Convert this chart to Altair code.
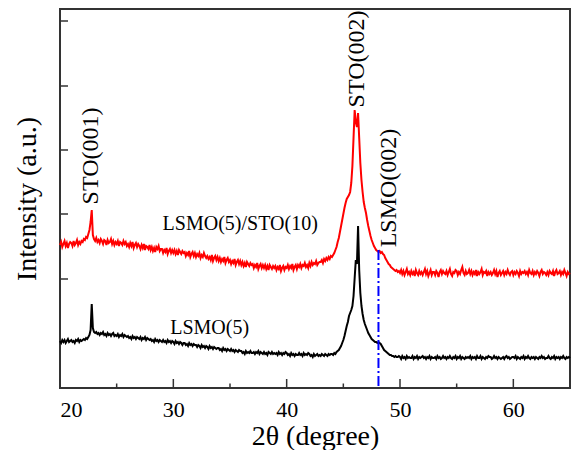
import altair as alt
import pandas as pd

# 2-theta sampling grid (0.1 degree steps, 20..65)
two_theta = [round(20 + 0.1 * i, 1) for i in range(451)]

# LSMO(5)/STO(10) intensity (a.u.)
red_vals = [
    143,146,141,144,147,142,145,140,144,146,
    145,142,147,143,145,148,143,146,144,147,
    146,149,148,151,150,154,158,166,178,153,
    149,147,150,146,148,145,149,147,144,148,
    147,143,148,145,146,149,144,147,143,146,
    144,147,142,146,145,143,147,144,146,142,
    144,141,145,142,146,140,143,145,141,144,
    142,139,143,140,144,138,142,141,139,143,
    138,141,137,140,136,141,139,142,137,139,
    139,135,138,136,140,134,137,139,135,138,
    135,138,134,137,133,138,136,134,137,135,
    136,132,135,133,137,131,134,136,132,135,
    131,134,132,135,130,133,131,135,132,130,
    132,129,131,128,133,127,130,132,128,131,
    127,130,126,129,127,131,125,128,130,126,
    128,124,127,125,129,123,126,128,124,127,
    123,126,122,125,121,126,124,122,125,123,
    124,120,123,121,125,119,122,124,120,123,
    120,123,119,122,118,123,121,119,122,120,
    122,118,121,119,123,117,120,122,118,121,
    120,123,119,122,120,124,118,121,123,119,
    123,121,124,120,123,122,125,121,123,120,
    125,122,126,123,125,124,127,123,125,126,
    126,128,125,129,127,130,128,131,129,132,
    131,133,135,138,141,146,150,156,162,168,
    174,180,185,189,191,193,196,205,222,250,
    278,266,261,275,250,225,208,196,186,180,
    175,168,162,157,152,148,145,142,140,138,
    137,136,137,135,136,134,133,130,128,126,
    124,123,121,120,119,118,117,118,116,117,
    115,118,114,117,113,116,119,114,116,113,
    117,114,116,112,118,115,113,117,114,116,
    113,116,119,114,117,112,115,118,113,116,
    116,113,117,115,111,116,118,114,117,115,
    114,117,113,116,119,114,112,116,115,118,
    117,113,116,114,118,121,115,113,117,114,
    115,118,114,117,113,116,114,118,112,116,
    114,116,119,113,116,115,117,112,116,114,
    116,113,115,118,114,117,111,115,117,113,
    115,117,113,116,114,118,115,113,116,117,
    113,116,114,117,115,112,117,114,116,115,
    117,114,116,113,118,115,114,117,113,116,
    114,117,115,112,116,118,114,116,115,113,
    116,113,117,115,114,117,112,116,118,114,
    115,117,113,116,114,118,115,112,116,114,
    115,
]

# LSMO(5) intensity (a.u.)
black_vals = [
    47,45,48,46,48,45,47,49,46,47,
    48,46,47,45,48,47,49,46,48,47,
    48,49,48,50,49,51,53,58,84,60,
    56,55,56,54,55,53,55,54,56,53,
    54,52,55,53,54,52,54,55,52,53,
    52,54,51,53,52,54,51,53,52,51,
    52,50,51,49,52,50,51,49,51,50,
    49,51,48,50,49,51,48,50,49,48,
    49,47,48,46,49,47,48,46,48,47,
    46,48,46,47,45,48,46,47,45,47,
    46,44,47,45,46,44,46,45,43,45,
    45,43,44,42,45,43,44,42,44,43,
    43,41,43,42,40,43,41,42,40,42,
    41,39,42,40,41,39,41,40,39,40,
    40,38,39,37,40,38,39,37,39,38,
    37,39,37,38,36,38,37,36,38,37,
    37,35,36,34,37,35,36,35,37,35,
    35,36,34,36,35,37,34,36,35,34,
    36,34,35,33,36,35,34,36,34,35,
    34,35,33,36,34,35,33,35,34,36,
    35,33,34,32,35,33,34,32,34,33,
    33,35,33,34,32,35,33,34,33,35,
    34,32,33,31,34,32,33,34,32,33,
    32,34,33,32,34,33,32,34,33,34,
    34,33,35,34,36,37,38,40,42,45,
    48,52,57,62,66,72,75,78,82,92,
    110,128,124,162,118,95,82,74,68,64,
    61,58,55,53,51,49,48,47,46,46,
    45,46,45,44,42,40,38,37,36,35,
    34,33,33,32,32,31,32,31,31,32,
    31,29,32,30,31,29,32,30,31,30,
    30,32,29,31,30,32,29,31,30,31,
    32,30,31,29,31,30,32,29,31,30,
    30,31,29,32,30,31,29,30,32,30,
    31,29,31,30,32,30,29,31,30,32,
    29,31,30,32,29,31,30,29,31,30,
    31,30,32,29,31,30,31,29,32,30,
    30,32,29,31,30,29,31,30,32,31,
    31,29,30,32,30,31,29,31,30,29,
    30,31,29,31,32,30,31,29,30,31,
    31,30,32,29,31,30,29,31,30,32,
    29,31,30,32,30,29,31,30,31,29,
    31,30,29,31,30,32,30,31,29,30,
    30,32,30,29,31,30,32,29,31,30,
    31,29,31,30,32,30,29,31,30,31,
    30,
]

assert len(red_vals) == len(two_theta) == len(black_vals)

# Annotations
h_labels = ["LSMO(5)/STO(10)", "LSMO(5)"]
h_x = [35.9, 33.2]
h_y = [164, 60]

r_labels = ["STO(001)", "STO(002)", "LSMO(002)"]
r_x = [22.7, 46.2, 49.0]
r_y = [232, 329, 200]

# LSMO(002) marker line
marker_x = [48.1]
marker_top = [138]

# Axis ticks
x_major = [20, 30, 40, 50, 60]
x_minor = [25, 35, 45, 55]
y_major = [109, 174, 238, 302, 367]

FONT = "'Liberation Serif', 'Times New Roman', Times, serif"

df = pd.DataFrame({"x": two_theta, "red": red_vals, "black": black_vals})

xs = alt.Scale(domain=[20, 65], nice=False, zero=False)
ys = alt.Scale(domain=[0, 379], nice=False, zero=False)

xaxis = alt.Axis(values=x_major, domain=False, ticks=False, grid=False,
                 labelFont=FONT, labelFontSize=22, labelColor="black",
                 labelPadding=11, title="2θ (degree)", titleFont=FONT,
                 titleFontSize=28, titleFontWeight="normal", titleColor="black",
                 titleBaseline="alphabetic", titleY=56)
yaxis = alt.Axis(labels=False, domain=False, ticks=False, grid=False,
                 title="Intensity (a.u.)", titleFont=FONT, titleFontSize=28,
                 titleFontWeight="normal", titleColor="black", titlePadding=19)

base = alt.Chart(df)
red_line = base.mark_line(color="#ff0000", strokeWidth=2).encode(
    x=alt.X("x:Q", scale=xs, axis=xaxis),
    y=alt.Y("red:Q", scale=ys, axis=yaxis),
)
black_line = base.mark_line(color="#000000", strokeWidth=2).encode(
    x=alt.X("x:Q", scale=xs),
    y=alt.Y("black:Q", scale=ys),
)

mk = pd.DataFrame({"x": marker_x, "top": marker_top, "bot": [0]})
marker = alt.Chart(mk).mark_rule(color="#0000ff", strokeWidth=2,
                                  strokeDash=[10, 3, 2, 3]).encode(
    x=alt.X("x:Q", scale=xs), y=alt.Y("top:Q", scale=ys), y2="bot:Q")

hl = pd.DataFrame({"t": h_labels, "x": h_x, "y": h_y})
htext = alt.Chart(hl).mark_text(font=FONT, fontSize=20, color="black",
                                 align="center", baseline="middle").encode(
    x=alt.X("x:Q", scale=xs), y=alt.Y("y:Q", scale=ys), text="t:N")

rl = pd.DataFrame({"t": r_labels, "x": r_x, "y": r_y})
rtext = alt.Chart(rl).mark_text(font=FONT, fontSize=24, color="black",
                                 align="center", baseline="middle", angle=270).encode(
    x=alt.X("x:Q", scale=xs), y=alt.Y("y:Q", scale=ys), text="t:N")

tick_col = "#333333"
xt_major = alt.Chart(pd.DataFrame({"v": x_major})).mark_rule(
    color=tick_col, strokeWidth=1.5).encode(
    x=alt.X("v:Q", scale=xs), y=alt.value(379), y2=alt.value(370))
xt_minor = alt.Chart(pd.DataFrame({"v": x_minor})).mark_rule(
    color=tick_col, strokeWidth=1.5).encode(
    x=alt.X("v:Q", scale=xs), y=alt.value(379), y2=alt.value(374.5))
yt_major = alt.Chart(pd.DataFrame({"v": y_major})).mark_rule(
    color=tick_col, strokeWidth=1.5).encode(
    y=alt.Y("v:Q", scale=ys), x=alt.value(0), x2=alt.value(8))

chart = alt.layer(
    xt_major, xt_minor, yt_major, red_line, black_line, marker, htext, rtext
).properties(
    width=510, height=379,
    autosize=alt.AutoSizeParams(type="none"),
    padding={"left": 52, "top": 1, "right": 1, "bottom": 62},
    background="white",
).configure_view(
    stroke="#333333", strokeWidth=2
)

chart.save("out.html", embed_options={"renderer": "svg", "actions": False})
